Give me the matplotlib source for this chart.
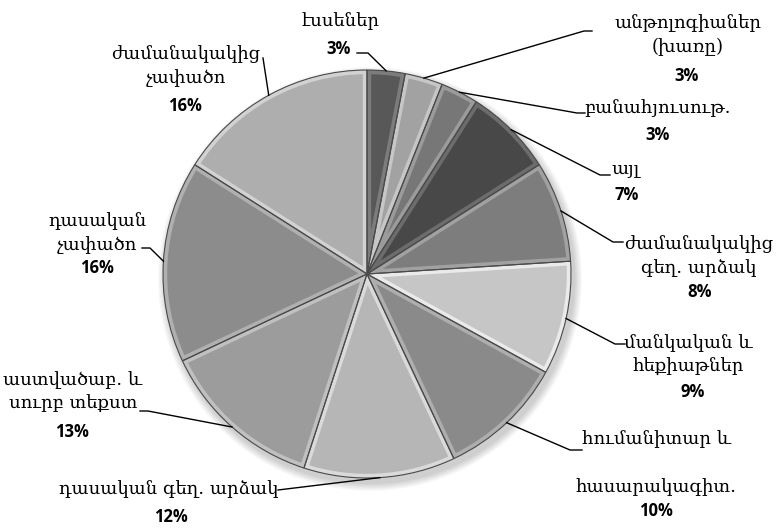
import matplotlib.pyplot as plt
from matplotlib.patches import Circle, Wedge
import numpy as np

# genre shares (%), clockwise from 12 o'clock
genres = [
    "էսսեներ",
    "անթոլոգիաներ\n(խառը)",
    "բանահյուսութ.",
    "այլ",
    "ժամանակակից\nգեղ. արձակ",
    "մանկական և\nհեքիաթներ",
    "հումանիտար և\n\nհասարակագիտ.",
    "դասական գեղ. արձակ",
    "աստվածաբ. և\nսուրբ տեքստ",
    "դասական\nչափածո",
    "ժամանակակից\nչափածո",
]
shares = [3, 3, 3, 7, 8, 9, 10, 12, 13, 16, 16]
shades = ["#585858", "#a2a2a2", "#777777", "#484848", "#7d7d7d", "#c6c6c6",
          "#8a8a8a", "#b6b6b6", "#9c9c9c", "#8c8c8c", "#aeaeae"]

# label layout in pixels: name centre, percent centre, leader elbow points
name_pos = [(341, 21), (688, 35), (658, 108), (626, 168), (699, 256), (688, 355),
            (656, 463), (169, 489), (73, 392), (97, 233), (186, 66)]
pct_pos = [(339, 49), (687, 76), (658, 135), (627, 195), (700, 292), (693, 392),
           (656, 511), (171, 517), (72, 432), (97, 268), (185, 106)]
elbows = [[(368, 53), (357, 53)], [(584, 31), (592, 31)], [(577, 113), (585, 113)],
          [(600, 175), (610, 175)], [(613, 242), (623, 242)], [(615, 344), (625, 344)],
          [(570, 450), (582, 450)], [(278, 490)], [(148, 411), (140, 411)],
          [(150, 248), (142, 248)], [(263, 58)]]

W, H = 776, 529
fig = plt.figure(figsize=(W / 100, H / 100), dpi=100)
ax = fig.add_axes([0, 0, 1, 1])

cx, cy, r = 367, 274, 204

# soft drop shadow
for k in range(8):
    ax.add_patch(Circle((cx + 3, cy + 5), r + 1 + k, color="black",
                        alpha=0.025, lw=0, zorder=1))

# y axis points down, so counterclock=True turns clockwise on screen
wedges, _ = ax.pie(shares, colors=shades, startangle=-90, counterclock=True,
                   center=(cx, cy), radius=r, frame=True,
                   wedgeprops=dict(linewidth=0, zorder=2))
ax.set_xlim(0, W)
ax.set_ylim(H, 0)
ax.set_aspect("equal")
ax.axis("off")

for w, c in zip(wedges, shades):
    rgb = np.array(plt.matplotlib.colors.to_rgb(c))
    light = np.clip(rgb + 0.14, 0, 1)
    bevel = Wedge(w.center, w.r, w.theta1, w.theta2, facecolor="none",
                  edgecolor=light, linewidth=6, zorder=3)
    ax.add_patch(bevel)
    bevel.set_clip_path(w)
    ax.add_patch(Wedge(w.center, w.r, w.theta1, w.theta2, facecolor="none",
                       edgecolor="#4a4a4a", linewidth=0.8, zorder=4))

arm_font = dict(family=["DejaVu Serif", "DejaVu Sans"], fontsize=13, color="black")
pct_font = dict(family=["Open Sans", "DejaVu Sans"], fontsize=12, fontweight="bold", color="black")

for w, name, v, npos, ppos, elb in zip(wedges, genres, shares, name_pos, pct_pos, elbows):
    mid = np.deg2rad((w.theta1 + w.theta2) / 2)
    start = (cx + r * np.cos(mid), cy + r * np.sin(mid))
    xs = [start[0]] + [p[0] for p in elb]
    ys = [start[1]] + [p[1] for p in elb]
    ax.plot(xs, ys, color="black", lw=1, zorder=5)
    ax.text(npos[0], npos[1], name, ha="center", va="center", linespacing=1.4, **arm_font)
    ax.text(ppos[0], ppos[1], f"{v}%", ha="center", va="center", **pct_font)

fig.savefig("out.png", dpi=100, facecolor="white")
